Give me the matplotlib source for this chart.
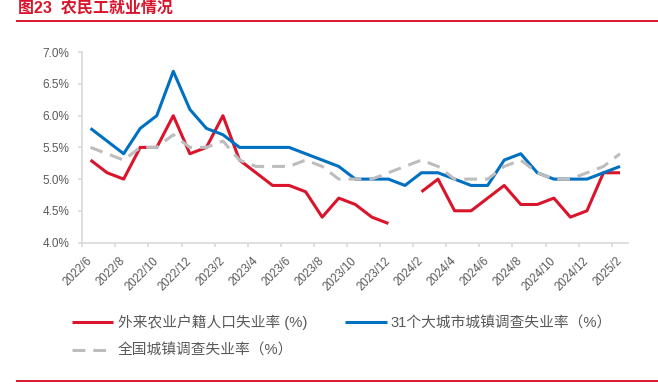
import numpy as np
import matplotlib
matplotlib.use("Agg")
import matplotlib.pyplot as plt
from matplotlib.lines import Line2D

plt.rcParams['font.family'] = ['Liberation Sans', 'Noto Sans CJK SC']

# monthly, 2022/6 .. 2025/2
months = [f"{y}/{m}" for y, m in
          [(2022, m) for m in range(6, 13)] + [(2023, m) for m in range(1, 13)]
          + [(2024, m) for m in range(1, 13)] + [(2025, 1), (2025, 2)]]

migrant_rural = [5.3, 5.1, 5.0, 5.5, 5.5, 6.0, 5.4, 5.5, 6.0, 5.3, 5.1, 4.9, 4.9,
                 4.8, 4.4, 4.7, 4.6, 4.4, 4.3, np.nan, 4.8, 5.0, 4.5, 4.5, 4.7,
                 4.9, 4.6, 4.6, 4.7, 4.4, 4.5, 5.1, 5.1]
big31 = [5.8, 5.6, 5.4, 5.8, 6.0, 6.7, 6.1, 5.8, 5.7, 5.5, 5.5, 5.5, 5.5,
         5.4, 5.3, 5.2, 5.0, 5.0, 5.0, 4.9, 5.1, 5.1, 5.0, 4.9, 4.9,
         5.3, 5.4, 5.1, 5.0, 5.0, 5.0, 5.1, 5.2]
national = [5.5, 5.4, 5.3, 5.5, 5.5, 5.7, 5.5, 5.5, 5.6, 5.3, 5.2, 5.2, 5.2,
            5.3, 5.2, 5.0, 5.0, 5.0, 5.1, 5.2, 5.3, 5.2, 5.0, 5.0, 5.0,
            5.2, 5.3, 5.1, 5.0, 5.0, 5.1, 5.2, 5.4]

labels = ["外来农业户籍人口失业率 (%)", "31个大城市城镇调查失业率（%）", "全国城镇调查失业率（%）"]

RED = "#D9142B"
BLUE = "#0070C0"
GRAY = "#BDBDBD"
TXT = "#595959"
AX = "#D9D9D9"

W, H = 658, 388
fig = plt.figure(figsize=(W / 100, H / 100), dpi=100)
ax = fig.add_axes([82.3 / W, 1 - 242.5 / H, (628.3 - 82.3) / W, (242.5 - 52.3) / H])

x = np.arange(len(months))
l1, = ax.plot(x, migrant_rural, color=RED, lw=2.2, solid_capstyle="butt")
l2, = ax.plot(x, big31, color=BLUE, lw=2.2, solid_capstyle="butt")
l3, = ax.plot(x, national, color=GRAY, lw=2.2, dashes=(4.2, 2.6))

ax.set_xlim(-0.5, len(months) - 0.5)
ax.set_ylim(4.0, 7.0)
ax.set_yticks(np.arange(4.0, 7.01, 0.5))
ax.set_yticklabels([f"{v:.1f}%" for v in np.arange(4.0, 7.01, 0.5)])

ax.set_xticks(np.arange(-0.5, len(months) - 1, 2))
ax.set_xticklabels([])
ax.set_xticks(x[::2], minor=True)
ax.set_xticklabels(months[::2], minor=True, rotation=45, ha="right", va="center",
                   rotation_mode="anchor")

for s in ["top", "right"]:
    ax.spines[s].set_visible(False)
for s in ["left", "bottom"]:
    ax.spines[s].set_color(AX)
    ax.spines[s].set_linewidth(1.2)
ax.tick_params(axis="both", which="major", color=AX, length=3, width=1.2)
ax.tick_params(axis="y", labelsize=8.5, labelcolor=TXT, pad=6.5)
ax.tick_params(axis="x", which="minor", length=0, labelsize=8.3, labelcolor=TXT, pad=12)

# column-wise fill: red + gray in the first column, blue in the second
leg = fig.legend([l1, l3, l2], [labels[0], labels[2], labels[1]], ncol=2, loc="upper left",
                 bbox_to_anchor=(72 / W, 1 - 315 / H), frameon=False,
                 fontsize=10.6, labelcolor=TXT, handlelength=2.8, handletextpad=0.3,
                 columnspacing=2.6, labelspacing=0.9, borderpad=0, borderaxespad=0)

fig.text(18 / W, 1 - 8.5 / H, "图23  农民工就业情况", color=RED, fontsize=11.5,
         fontweight="bold", va="center", ha="left")
fig.add_artist(Line2D([17 / W, 1], [1 - 21 / H] * 2, color=RED, lw=1.4))
fig.add_artist(Line2D([17 / W, 1], [1 - 381 / H] * 2, color=RED, lw=1.4))

fig.savefig("out.png", dpi=100)
